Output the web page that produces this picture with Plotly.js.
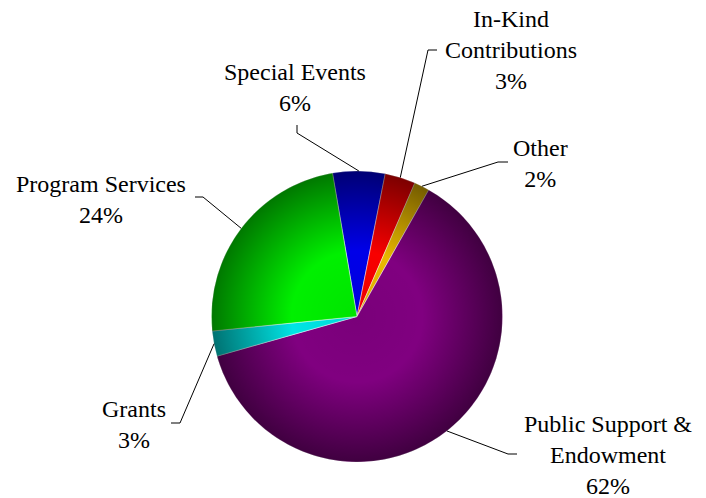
<!DOCTYPE html>
<html>
<head>
<meta charset="utf-8">
<script src="https://cdn.plot.ly/plotly-3.0.1.min.js"></script>
<style>html,body{margin:0;padding:0;background:#fff;}#chart{width:706px;height:498px;}</style>
</head>
<body>
<div id="chart"></div>
<script>
// ---- data ----
var categories = ["Special Events", "In-Kind<br>Contributions", "Other", "Public Support &<br>Endowment", "Grants", "Program Services"];
var values = [5.8, 3.4, 1.7, 62.4, 2.8, 23.9];
var colors = ["#0000e8", "#f80000", "#e8b800", "#800080", "#00e4e4", "#00f000"];

// ---- layout config (label placement in pixels) ----
var W = 706, H = 498;
var pieCenter = [357, 316.5], pieR = 145.5;
var rotation = -9.7;
var FONT = "Liberation Serif, DejaVu Serif, serif";
// text centre and leader elbow points for each category (pixels)
var labelPos = [
  {tx: 295, ty: 88,  elbow: [[297, 133], [297, 125]]},
  {tx: 511, ty: 50,  elbow: [[428, 50], [437, 50]]},
  {tx: 540, ty: 163, elbow: [[498, 162], [508, 162]]},
  {tx: 608, ty: 455, elbow: [[508, 454], [517, 454]]},
  {tx: 134, ty: 424, elbow: [[180, 423], [171, 423]]},
  {tx: 101, ty: 199, elbow: [[203, 197], [195, 197]]}
];

var domX = [(pieCenter[0] - pieR) / W, (pieCenter[0] + pieR) / W];
var domY = [1 - (pieCenter[1] + pieR) / H, 1 - (pieCenter[1] - pieR) / H];

var total = values.reduce(function(a, b) { return a + b; }, 0);

function px(x) { return x / W; }
function py(y) { return 1 - y / H; }

var annotations = [], shapes = [];
var cum = 0;
for (var i = 0; i < values.length; i++) {
  var mid = rotation + (cum + values[i] / 2) / total * 360;
  cum += values[i];
  var a = mid * Math.PI / 180;
  var ex = pieCenter[0] + pieR * Math.sin(a);
  var ey = pieCenter[1] - pieR * Math.cos(a);
  var lp = labelPos[i];
  var pct = Math.round(values[i] / total * 100) + "%";
  annotations.push({
    xref: "paper", yref: "paper", x: px(lp.tx), y: py(lp.ty),
    xanchor: "center", yanchor: "middle", showarrow: false, align: "center",
    text: categories[i] + "<br>" + pct,
    font: {family: FONT, size: 24, color: "#000"}
  });
  var path = "M " + px(ex) + " " + py(ey);
  lp.elbow.forEach(function(p) { path += " L " + px(p[0]) + " " + py(p[1]); });
  shapes.push({type: "path", xref: "paper", yref: "paper", path: path,
    line: {color: "#000", width: 1}});
}

var grad = "<svg xmlns='http://www.w3.org/2000/svg' width='200' height='200'>" +
  "<defs><radialGradient id='g' cx='50%' cy='50%' r='50%'>" +
  "<stop offset='0' stop-color='#000' stop-opacity='0.05'/>" +
  "<stop offset='0.45' stop-color='#000' stop-opacity='0'/>" +
  "<stop offset='1' stop-color='#000' stop-opacity='0.5'/>" +
  "</radialGradient></defs><circle cx='100' cy='100' r='100' fill='url(#g)'/></svg>";

var trace = {
  type: "pie",
  labels: categories,
  values: values,
  sort: false,
  direction: "clockwise",
  rotation: rotation,
  textinfo: "none",
  hoverinfo: "none",
  showlegend: false,
  domain: {x: domX, y: domY},
  marker: {colors: colors, line: {color: "rgba(255,255,255,0.45)", width: 1}}
};

var layout = {
  width: W, height: H,
  margin: {l: 0, r: 0, t: 0, b: 0},
  paper_bgcolor: "#fff",
  font: {family: FONT},
  showlegend: false,
  annotations: annotations,
  shapes: shapes,
  images: [{
    source: "data:image/svg+xml;charset=utf-8," + encodeURIComponent(grad),
    xref: "paper", yref: "paper", x: domX[0], y: domY[1],
    sizex: domX[1] - domX[0], sizey: domY[1] - domY[0],
    xanchor: "left", yanchor: "top", sizing: "stretch", layer: "above"
  }]
};

Plotly.newPlot("chart", [trace], layout, {staticPlot: true, displayModeBar: false});
</script>
</body>
</html>
